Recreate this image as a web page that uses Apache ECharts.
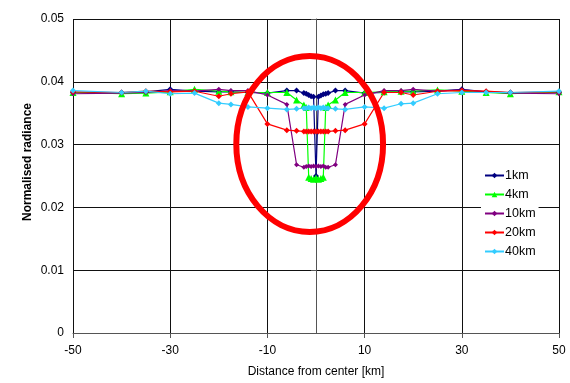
<!DOCTYPE html>
<html>
<head>
<meta charset="utf-8">
<script src="https://cdn.jsdelivr.net/npm/echarts@6/dist/echarts.min.js"></script>
<style>
  html, body { margin: 0; padding: 0; background: #ffffff; }
  #chart { width: 570px; height: 383px; }
</style>
</head>
<body>
<div id="chart"></div>
<script>
// Sample positions across the profile (km from center)
const distanceKm = [-50, -40, -35, -30, -25, -20, -17.5, -14, -10, -6, -4, -2.5, -2, -1.5, -1, -0.5, 0,
                    0.5, 1, 1.5, 2, 2.5, 4, 6, 10, 14, 17.5, 20, 25, 30, 35, 40, 50];

const seriesNames = ['1km', '4km', '10km', '20km', '40km'];

// Normalised radiance profiles for each feature size
const radiance1km = [0.0383, 0.0383, 0.0384, 0.0388, 0.0385, 0.0384, 0.0384, 0.0383, 0.0382, 0.0386, 0.0386,
                     0.0382, 0.0381, 0.0379, 0.0377, 0.0376, 0.0250, 0.0376, 0.0378, 0.0380, 0.0381, 0.0382,
                     0.0386, 0.0386, 0.0382, 0.0383, 0.0384, 0.0384, 0.0385, 0.0388, 0.0384, 0.0383, 0.0383];
const radiance4km = [0.0383, 0.0381, 0.0382, 0.0384, 0.0388, 0.0385, 0.0384, 0.0383, 0.0383, 0.0383, 0.0371,
                     0.0363, 0.0359, 0.0248, 0.0246, 0.0245, 0.0247, 0.0245, 0.0246, 0.0248, 0.0359, 0.0363,
                     0.0371, 0.0383, 0.0383, 0.0384, 0.0385, 0.0385, 0.0387, 0.0385, 0.0383, 0.0381, 0.0384];
const radiance10km = [0.0381, 0.0382, 0.0383, 0.0386, 0.0385, 0.0388, 0.0386, 0.0386, 0.0379, 0.0364, 0.0268,
                      0.0264, 0.0265, 0.0266, 0.0265, 0.0266, 0.0265, 0.0266, 0.0265, 0.0266, 0.0264, 0.0264,
                      0.0268, 0.0364, 0.0379, 0.0386, 0.0386, 0.0388, 0.0385, 0.0387, 0.0384, 0.0382, 0.0381];
const radiance20km = [0.0384, 0.0383, 0.0385, 0.0384, 0.0385, 0.0377, 0.0381, 0.0384, 0.0333, 0.0323, 0.0322,
                      0.0321, 0.0321, 0.0321, 0.0321, 0.0321, 0.0321, 0.0321, 0.0321, 0.0321, 0.0321, 0.0321,
                      0.0322, 0.0323, 0.0333, 0.0383, 0.0383, 0.0379, 0.0385, 0.0386, 0.0385, 0.0383, 0.0384];
const radiance40km = [0.0386, 0.0383, 0.0385, 0.0381, 0.0382, 0.0366, 0.0364, 0.0360, 0.0358, 0.0356, 0.0357,
                      0.0358, 0.0358, 0.0359, 0.0358, 0.0359, 0.0358, 0.0359, 0.0358, 0.0359, 0.0358, 0.0358,
                      0.0357, 0.0356, 0.0360, 0.0358, 0.0365, 0.0366, 0.0381, 0.0383, 0.0383, 0.0383, 0.0385];

const profiles = [radiance1km, radiance4km, radiance10km, radiance20km, radiance40km];
const colors = ['#000080', '#00ff00', '#800080', '#ff0000', '#33ccff'];
const symbols = ['diamond', 'triangle', 'diamond', 'diamond', 'diamond'];
const symbolSizes = [6, 7, 5, 6, 6];

// Highlight ellipse around the dip (center in data units, radii in km / radiance)
const ringCenter = [-1.3, 0.0301];
const ringRadiusKm = 15.1;
const ringRadiusVal = 0.0140;

const FONT = 'Liberation Sans, Arial, sans-serif';

const chart = echarts.init(document.getElementById('chart'), null, { renderer: 'canvas' });

const series = seriesNames.map((name, s) => ({
  name: name,
  type: 'line',
  data: distanceKm.map((x, i) => [x, profiles[s][i]]),
  symbol: symbols[s],
  symbolSize: symbolSizes[s],
  showSymbol: true,
  color: colors[s],
  lineStyle: { width: 1.2, color: colors[s] },
  itemStyle: { color: colors[s] },
  emphasis: { disabled: true },
  animation: false
}));

chart.setOption({
  animation: false,
  backgroundColor: '#ffffff',
  grid: { left: 73, right: 11, top: 19, bottom: 50, containLabel: false },
  xAxis: {
    type: 'value',
    min: -50, max: 50, interval: 20,
    name: 'Distance from center [km]',
    nameLocation: 'middle',
    nameGap: 33,
    nameTextStyle: { fontFamily: FONT, fontSize: 12, color: '#000' },
    axisLine: { show: true, onZero: false, lineStyle: { color: '#555', width: 1 } },
    axisTick: { show: true, length: 5, lineStyle: { color: '#555' } },
    axisLabel: { fontFamily: FONT, fontSize: 12, color: '#000', margin: 12 },
    splitLine: { show: true, lineStyle: { color: '#111', width: 1 } }
  },
  yAxis: {
    type: 'value',
    min: 0, max: 0.05, interval: 0.01,
    axisLine: { show: true, lineStyle: { color: '#555', width: 1 } },
    axisTick: { show: true, length: 5, lineStyle: { color: '#555' } },
    axisLabel: { fontFamily: FONT, fontSize: 12, color: '#000', margin: 9 },
    splitLine: { show: true, lineStyle: { color: '#111', width: 1 } }
  },
  legend: {
    orient: 'vertical',
    left: 481,
    top: 167,
    data: seriesNames,
    backgroundColor: '#ffffff',
    padding: [2, 3, 2, 3],
    itemWidth: 19,
    itemHeight: 7,
    itemGap: 6,
    textStyle: { fontFamily: FONT, fontSize: 12.5, color: '#000', padding: [0, 0, 0, -4] }
  },
  series: series
});

// Name of the vertical axis and the highlight ring
const c = chart.convertToPixel({ gridIndex: 0 }, ringCenter);
const e = chart.convertToPixel({ gridIndex: 0 }, [ringCenter[0] + ringRadiusKm, ringCenter[1] + ringRadiusVal]);
const plotTop = chart.convertToPixel({ gridIndex: 0 }, [0, 0.05])[1];
const plotBottom = chart.convertToPixel({ gridIndex: 0 }, [0, 0])[1];

chart.setOption({
  graphic: [
    {
      type: 'text',
      x: 28,
      y: (plotTop + plotBottom) / 2 - 14,
      rotation: Math.PI / 2,
      style: {
        text: 'Normalised radiance',
        font: 'bold 12px ' + FONT,
        fill: '#000',
        align: 'center',
        verticalAlign: 'middle'
      },
      z: 10
    },
    {
      type: 'ellipse',
      shape: { cx: c[0], cy: c[1], rx: Math.abs(e[0] - c[0]), ry: Math.abs(c[1] - e[1]) },
      style: { fill: null, stroke: '#ff0000', lineWidth: 6 },
      silent: true,
      z: 20
    }
  ]
});
</script>
</body>
</html>
